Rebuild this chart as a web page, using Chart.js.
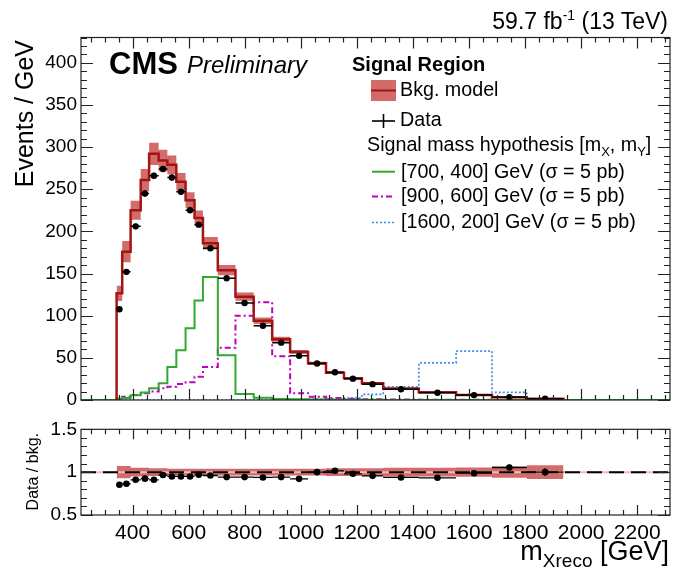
<!DOCTYPE html>
<html><head><meta charset="utf-8">
<script src="https://cdn.jsdelivr.net/npm/chart.js@4/dist/chart.umd.min.js"></script>
<style>
html,body{margin:0;padding:0;background:#fff;}
#wrap{position:relative;width:674px;height:573px;overflow:hidden;font-family:'Liberation Sans',Arial,Helvetica,sans-serif;color:#000;}
canvas{position:absolute;left:0;top:0;}
.t{position:absolute;white-space:nowrap;line-height:1;}
.sub{position:relative;top:6px;font-size:14px;}
.sup{position:relative;top:-9px;font-size:14px;}
</style></head><body>
<div id="wrap">
<canvas id="ratio" width="674" height="573"></canvas>
<canvas id="main" width="674" height="573"></canvas>
<svg style="position:absolute;left:0;top:0" width="674" height="573">
<rect x="371" y="80" width="25" height="21" fill="#d46b6b"/>
<line x1="371" x2="396" y1="90.5" y2="90.5" stroke="#a31515" stroke-width="2"/>
<line x1="372" x2="395" y1="121" y2="121" stroke="#000" stroke-width="1.6"/>
<line x1="383.5" x2="383.5" y1="114" y2="128" stroke="#000" stroke-width="1.6"/>
<line x1="372" x2="395" y1="171.7" y2="171.7" stroke="#2eaa2e" stroke-width="2"/>
<line x1="372" x2="395" y1="196.5" y2="196.5" stroke="#c000c0" stroke-width="2" stroke-dasharray="6 3 2 3"/>
<line x1="372" x2="395" y1="222.5" y2="222.5" stroke="#3a8ee6" stroke-width="1.6" stroke-dasharray="2 2"/>
</svg>
<div class="t" style="right:6px;top:9.5px;font-size:23px">59.7 fb<span class="sup">-1</span> (13 TeV)</div>
<div class="t" style="left:109px;top:47.5px;font-size:31px;font-weight:bold">CMS</div>
<div class="t" style="left:187px;top:53px;font-size:24px;font-style:italic">Preliminary</div>
<div class="t" style="left:352px;top:53.8px;font-size:20px;font-weight:bold">Signal Region</div>
<div class="t" style="left:400px;top:80.3px;font-size:19.7px">Bkg. model</div>
<div class="t" style="left:400px;top:109.5px;font-size:19.7px">Data</div>
<div class="t" style="left:367px;top:135px;font-size:19.7px">Signal mass hypothesis [m<span class="sub" style="font-size:13px;top:5px">X</span>, m<span class="sub" style="font-size:13px;top:5px">Y</span>]</div>
<div class="t" style="left:401px;top:161.6px;font-size:19.7px">[700, 400] GeV (σ = 5 pb)</div>
<div class="t" style="left:401px;top:186.2px;font-size:19.7px">[900, 600] GeV (σ = 5 pb)</div>
<div class="t" style="left:401px;top:211.6px;font-size:19.7px">[1600, 200] GeV (σ = 5 pb)</div>
<div class="t" style="right:5px;top:538px;font-size:27px">m<span class="sub" style="font-size:19px;top:7px">Xreco</span> [GeV]</div>
<div class="t" style="left:11.5px;top:340px;width:300px;text-align:right;font-size:25px;transform-origin:0 0;transform:rotate(-90deg)">Events / GeV</div>
<div class="t" style="left:25px;top:733px;width:300px;text-align:right;font-size:16px;transform-origin:0 0;transform:rotate(-90deg)">Data / bkg.</div>
</div>
<script>
// ---------------- data ----------------
const binEdges = [343,363,393,429,459,493,524,556,589,621,651,704,767,832,898,962,1026,1090,1154,1218,1294,1421,1554,1682,1806,1937];
const bkgModel = [126.5,176,225,261,292,284,279,259,237,216,186,154,122.5,94,72,57,43.5,32.4,25.7,19.8,13.5,9.3,5.9,3.2,1.6];
const bkgRelUnc = [0.072,0.072,0.05,0.05,0.045,0.045,0.04,0.04,0.04,0.04,0.04,0.04,0.04,0.04,0.04,0.04,0.04,0.045,0.045,0.045,0.05,0.05,0.055,0.065,0.08];
const dataValues = [107.6,152,206,245,266,274,264,247,225,208,180,144.5,115,88,68,52.4,43.3,32.9,25.3,18.8,12.7,8.6,5.8,3.4,1.6];
const dataErr = [3,3,3.5,3.5,3.5,3.5,3.5,3,3,3,2.5,2,2,1.8,1.5,1.4,1.2,1,0.9,0.7,0.5,0.4,0.3,0.3,0.2];
const dataRatio = [0.853,0.864,0.911,0.924,0.911,0.967,0.95,0.95,0.95,0.969,0.961,0.942,0.942,0.938,0.942,0.922,1.0,1.016,0.981,0.957,0.938,0.934,0.988,1.054,1.0];
const ratioErr = [0.015,0.012,0.012,0.011,0.01,0.01,0.01,0.01,0.01,0.01,0.009,0.009,0.01,0.011,0.013,0.014,0.016,0.018,0.02,0.022,0.02,0.022,0.025,0.035,0.045];
const sig700_400 = [1.5,2.5,5.5,9,14,20,39,59,85,118,146,53,7,2.8,1.2,0.8,0.5,0.3,0.2,0.2,0.1,0.1,0,0,0];
const sig900_600 = [2,4,6,8,10,13.8,15.8,19,21,27.7,39,62,100,116,52,8,4,2.4,1.5,1,0.7,0.4,0.2,0.1,0];
const sig1600_200 = [0,0,0,0,0,0,0,0,0,0,0,0,0,0,0.3,0.5,1,1.5,2.4,6.7,15.8,44,58,9,0];
const xTicks = [400,600,800,1000,1200,1400,1600,1800,2000,2200];
const yTicks = [0,50,100,150,200,250,300,350,400];
const ratioTicks = [0.5,1,1.5];
const X_MIN = 216, X_MAX = 2317, Y_MAX = 430;

// ---------------- helpers ----------------
Chart.defaults.font.family = "'Liberation Sans', Arial, Helvetica, sans-serif";
Chart.defaults.color = '#000';
const centers = bkgModel.map((_, i) => (binEdges[i] + binEdges[i+1]) / 2);

function outline(vals, lead, tail) {
  const pts = [];
  pts.push({x: lead !== undefined ? lead : binEdges[0], y: 0});
  for (let i = 0; i < vals.length; i++) pts.push({x: binEdges[i], y: vals[i]});
  pts.push({x: binEdges[vals.length], y: 0});
  if (tail !== undefined) pts.push({x: tail, y: 0});
  return pts;
}
function bandEdge(vals) {
  const pts = vals.map((v, i) => ({x: binEdges[i], y: v}));
  pts.push({x: binEdges[vals.length], y: vals[vals.length-1]});
  return pts;
}
function errBars(yv, ev) {
  const pts = [];
  for (let i = 0; i < yv.length; i++) {
    pts.push({x: binEdges[i], y: yv[i]}, {x: binEdges[i+1], y: yv[i]}, {x: binEdges[i+1], y: null});
    pts.push({x: centers[i], y: yv[i]-ev[i]}, {x: centers[i], y: yv[i]+ev[i]}, {x: centers[i], y: null});
  }
  return pts;
}
function framePlugin(o) {
  return {
    id: 'frame',
    afterDatasetsDraw(chart) {
      const {ctx, chartArea: a, scales: {x, y}} = chart;
      ctx.save();
      ctx.strokeStyle = '#222'; ctx.lineWidth = 1.2;
      ctx.beginPath();
      for (let v = Math.ceil(x.min/50)*50; v <= x.max; v += 50) {
        const px = Math.round(x.getPixelForValue(v)) + 0.5;
        const L = (v % 200 === 0) ? o.xMaj : o.xMin;
        ctx.moveTo(px, a.bottom); ctx.lineTo(px, a.bottom - L);
        ctx.moveTo(px, a.top); ctx.lineTo(px, a.top + L);
      }
      const n = Math.round((y.max - y.min) / o.yMinStep);
      for (let k = 0; k <= n; k++) {
        const v = y.min + k * o.yMinStep;
        const py = Math.round(y.getPixelForValue(v)) + 0.5;
        const major = Math.abs(v / o.yMajStep - Math.round(v / o.yMajStep)) < 1e-6;
        const L = major ? o.yMaj : o.yMin;
        ctx.moveTo(a.left, py); ctx.lineTo(a.left + L, py);
        ctx.moveTo(a.right, py); ctx.lineTo(a.right - L, py);
      }
      ctx.stroke();
      ctx.strokeRect(a.left, a.top, a.right - a.left, a.bottom - a.top);
      ctx.restore();
    }
  };
}
const BAND = '#d46b6b', BKG = '#a31515';

// ---------------- main panel ----------------
new Chart(document.getElementById('main'), {
  type: 'line',
  data: { datasets: [
    {data: bandEdge(bkgModel.map((v,i)=>v*(1-bkgRelUnc[i]))), stepped: true, borderWidth: 0, pointRadius: 0, fill: false, order: 6},
    {data: bandEdge(bkgModel.map((v,i)=>v*(1+bkgRelUnc[i]))), stepped: true, borderWidth: 0, pointRadius: 0, fill: 0, backgroundColor: BAND, order: 5},
    {data: outline(sig1600_200, X_MIN, X_MAX), stepped: true, borderColor: '#3a8ee6', borderWidth: 1.6, borderDash: [2,2], pointRadius: 0, fill: false, order: 4},
    {data: outline(sig900_600, X_MIN, X_MAX), stepped: true, borderColor: '#c000c0', borderWidth: 2, borderDash: [6,3,2,3], pointRadius: 0, fill: false, order: 3},
    {data: outline(sig700_400, X_MIN, X_MAX), stepped: true, borderColor: '#2eaa2e', borderWidth: 2, pointRadius: 0, fill: false, order: 2},
    {data: outline(bkgModel), stepped: true, borderColor: BKG, borderWidth: 2.5, pointRadius: 0, fill: false, order: 1},
    {data: errBars(dataValues, dataErr), borderColor: '#000', borderWidth: 1.5, pointRadius: 0, fill: false, spanGaps: false, order: 0},
    {data: dataValues.map((v,i)=>({x: centers[i], y: v})), showLine: false, pointRadius: 3.2, pointBackgroundColor: '#000', pointBorderColor: '#000', pointBorderWidth: 0, order: 0}
  ]},
  options: {
    responsive: false, animation: false, events: [],
    layout: {padding: {top: 37.5, right: 3, left: 0, bottom: 0}},
    plugins: {legend: {display: false}, tooltip: {enabled: false}},
    scales: {
      x: {type: 'linear', min: X_MIN, max: X_MAX, grid: {display: false, drawTicks: false}, border: {display: false},
          ticks: {display: false}, afterFit(s) { s.height = 173; }},
      y: {type: 'linear', min: 0, max: Y_MAX, grid: {display: false, drawTicks: false}, border: {display: false},
          afterBuildTicks(s) { s.ticks = yTicks.map(v => ({value: v})); },
          ticks: {font: {size: 19}, color: '#000', padding: 4, autoSkip: false, callback: v => String(v)},
          afterFit(s) { s.width = 81; }}
    }
  },
  plugins: [framePlugin({xMaj: 11, xMin: 5, yMaj: 12, yMin: 6, yMajStep: 50, yMinStep: 10})]
});

// ---------------- ratio panel ----------------
new Chart(document.getElementById('ratio'), {
  type: 'line',
  data: { datasets: [
    {data: bandEdge(bkgRelUnc.map(u=>1-u)), stepped: true, borderWidth: 0, pointRadius: 0, fill: false, order: 6},
    {data: bandEdge(bkgRelUnc.map(u=>1+u)), stepped: true, borderWidth: 0, pointRadius: 0, fill: 0, backgroundColor: BAND, order: 5},
    {data: [{x: X_MIN, y: 1}, {x: X_MAX, y: 1}], borderColor: '#f2b8b8', borderWidth: 2, pointRadius: 0, fill: false, order: 4},
    {data: [{x: X_MIN, y: 1}, {x: X_MAX, y: 1}], borderColor: '#000', borderWidth: 2, borderDash: [15,7], pointRadius: 0, fill: false, order: 3},
    {data: errBars(dataRatio, ratioErr), borderColor: '#000', borderWidth: 1.3, pointRadius: 0, fill: false, spanGaps: false, order: 1},
    {data: dataRatio.map((v,i)=>({x: centers[i], y: v})), showLine: false, pointRadius: 3.3, pointBackgroundColor: '#000', pointBorderColor: '#000', pointBorderWidth: 0, order: 0}
  ]},
  options: {
    responsive: false, animation: false, events: [],
    layout: {padding: {top: 429.3, right: 3, left: 0, bottom: 0}},
    plugins: {legend: {display: false}, tooltip: {enabled: false}},
    scales: {
      x: {type: 'linear', min: X_MIN, max: X_MAX, grid: {display: false, drawTicks: false}, border: {display: false},
          afterBuildTicks(s) { s.ticks = xTicks.map(v => ({value: v})); },
          ticks: {font: {size: 21}, color: '#000', padding: 6, autoSkip: false, maxRotation: 0, callback: v => String(v)},
          afterFit(s) { s.height = 58; }},
      y: {type: 'linear', min: 0.5, max: 1.5, grid: {display: false, drawTicks: false}, border: {display: false},
          afterBuildTicks(s) { s.ticks = ratioTicks.map(v => ({value: v})); },
          ticks: {font: {size: 19}, color: '#000', padding: 4, autoSkip: false, callback: v => String(v)},
          afterFit(s) { s.width = 81; }}
    }
  },
  plugins: [framePlugin({xMaj: 10, xMin: 5, yMaj: 12, yMin: 6, yMajStep: 0.5, yMinStep: 0.1})]
});
</script>
</body></html>
